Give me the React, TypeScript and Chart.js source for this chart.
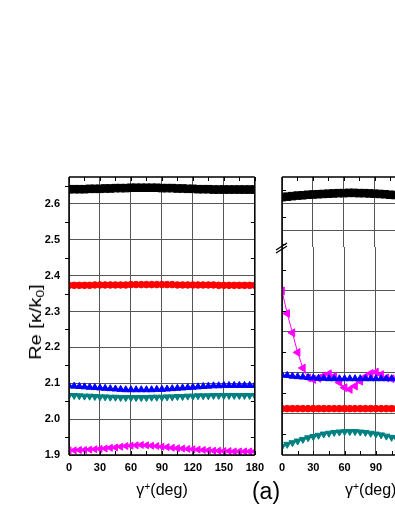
import React, { useEffect, useRef } from "react";
import { Chart, registerables } from "chart.js";
Chart.register(...registerables);

// ---------------- data ----------------
// left panel, angle gamma+ in degrees
const ANGLES_L = [
  0, 5, 10, 15, 20, 25, 30, 35, 40, 45, 50, 55, 60, 65, 70, 75, 80, 85, 90,
  95, 100, 105, 110, 115, 120, 125, 130, 135, 140, 145, 150, 155, 160, 165, 170, 175, 180,
];
const BLACK_L = [
  2.641, 2.641, 2.641, 2.641, 2.642, 2.642, 2.642, 2.643, 2.643, 2.644, 2.644, 2.644, 2.645, 2.645, 2.645, 2.645, 2.645, 2.645, 2.644,
  2.644, 2.644, 2.643, 2.643, 2.642, 2.642, 2.641, 2.641, 2.641, 2.640, 2.640, 2.640, 2.640, 2.640, 2.640, 2.640, 2.640, 2.640,
];
const RED_L = [
  2.373, 2.373, 2.373, 2.373, 2.373, 2.374, 2.374, 2.374, 2.374, 2.374, 2.374, 2.374, 2.375, 2.375, 2.375, 2.375, 2.375, 2.375, 2.375,
  2.375, 2.375, 2.374, 2.374, 2.374, 2.374, 2.374, 2.374, 2.374, 2.374, 2.373, 2.373, 2.373, 2.373, 2.373, 2.373, 2.373, 2.373,
];
const BLUE_L = [
  2.093, 2.092, 2.091, 2.090, 2.089, 2.088, 2.087, 2.086, 2.085, 2.084, 2.083, 2.082, 2.082, 2.082, 2.082, 2.082, 2.082, 2.083, 2.083,
  2.084, 2.085, 2.086, 2.087, 2.088, 2.089, 2.090, 2.091, 2.092, 2.093, 2.093, 2.094, 2.094, 2.094, 2.094, 2.094, 2.094, 2.094,
];
const TEAL_L = [
  2.066, 2.066, 2.065, 2.064, 2.064, 2.063, 2.062, 2.062, 2.061, 2.061, 2.060, 2.060, 2.060, 2.060, 2.060, 2.060, 2.061, 2.061, 2.061,
  2.062, 2.062, 2.063, 2.063, 2.064, 2.064, 2.065, 2.065, 2.065, 2.066, 2.066, 2.066, 2.066, 2.066, 2.066, 2.066, 2.066, 2.066,
];
const MAGENTA_L = [
  1.913, 1.913, 1.914, 1.914, 1.915, 1.916, 1.917, 1.918, 1.920, 1.921, 1.923, 1.925, 1.926, 1.927, 1.928, 1.927, 1.926, 1.925, 1.923,
  1.922, 1.920, 1.919, 1.918, 1.917, 1.916, 1.915, 1.914, 1.913, 1.912, 1.912, 1.911, 1.911, 1.910, 1.910, 1.910, 1.910, 1.910,
];

// right panel (visible part only)
const ANGLES_R = [0, 5, 10, 15, 20, 25, 30, 35, 40, 45, 50, 55, 60, 65, 70, 75, 80, 85, 90, 95, 100, 105, 110];
const BLACK_R = [
  2.625, 2.627, 2.629, 2.631, 2.632, 2.634, 2.635, 2.636, 2.637, 2.638, 2.639, 2.640, 2.640, 2.641, 2.641, 2.640, 2.640, 2.639, 2.638,
  2.637, 2.636, 2.634, 2.633,
];
const MAGENTA_R = [
  2.300, 2.245, 2.198, 2.150, 2.112, 2.088, 2.084, 2.087, 2.093, 2.098, 2.092, 2.077, 2.064, 2.060, 2.068, 2.080, 2.091, 2.099, 2.102,
  2.096, 2.088, 2.086, 2.087,
];
const BLUE_R = [
  2.095, 2.094, 2.092, 2.091, 2.090, 2.089, 2.088, 2.087, 2.087, 2.086, 2.086, 2.086, 2.086, 2.086, 2.086, 2.086, 2.086, 2.086, 2.086,
  2.086, 2.086, 2.086, 2.086,
];
const RED_R = [
  2.013, 2.013, 2.013, 2.013, 2.013, 2.013, 2.013, 2.013, 2.013, 2.013, 2.013, 2.013, 2.013, 2.013, 2.013, 2.013, 2.013, 2.013, 2.013,
  2.013, 2.013, 2.013, 2.013,
];
const TEAL_R = [
  1.921, 1.926, 1.930, 1.934, 1.938, 1.942, 1.945, 1.948, 1.951, 1.953, 1.955, 1.956, 1.957, 1.957, 1.957, 1.956, 1.955, 1.953, 1.951,
  1.949, 1.946, 1.943, 1.940,
];

// ticks
const X_TICKS = [0, 30, 60, 90, 120, 150, 180];
const X_MINOR = [0, 15, 30, 45, 60, 75, 90, 105, 120, 135, 150, 165, 180];
const Y_TICKS_L = [1.9, 2.0, 2.1, 2.2, 2.3, 2.4, 2.5, 2.6];
const Y_MINOR_L = [1.95, 2.05, 2.15, 2.25, 2.35, 2.45, 2.55, 2.65];
const Y_TICKS_RU = [2.5, 2.6];
const Y_MINOR_RU = [2.45, 2.55, 2.65];
const Y_TICKS_RL = [2.0, 2.1, 2.2, 2.3];
const Y_MINOR_RL = [1.95, 2.05, 2.15, 2.25, 2.35];

const FONT = "'Liberation Sans', Arial, Helvetica, sans-serif";

type Area = { left: number; top: number; right: number; bottom: number };
type Spec = {
  area: Area;
  datasets: any[];
  yMin: number;
  yMax: number;
  yTicks: number[];
  yMinor: number[];
  showX: boolean;
  showY: boolean;
  sides: { top: boolean; bottom: boolean; left: boolean; right: boolean };
  leftOut: boolean;
  breakMark?: boolean;
};

function series(xs: number[], ys: number[], color: string, style: string, rot: number, r: number) {
  return {
    data: xs.map((x, i) => ({ x, y: ys[i] })),
    borderColor: color,
    backgroundColor: color,
    borderWidth: 1,
    pointStyle: style,
    pointRotation: rot,
    pointRadius: r,
    pointBorderWidth: 1,
    pointBorderColor: color,
    pointBackgroundColor: color,
    tension: 0,
    fill: false,
  };
}

function makePanel(canvas: HTMLCanvasElement, spec: Spec) {
  const pad = { left: 0, top: 0, right: 0, bottom: 0 };
  const TL = 4;
  const frame = {
    id: "frame",
    afterDatasetsDraw(chart: any) {
      const { ctx, chartArea: a } = chart;
      const xs = chart.scales.x;
      const ys = chart.scales.y;
      ctx.save();
      ctx.strokeStyle = "#000";
      ctx.lineWidth = 1.5;
      ctx.beginPath();
      if (spec.sides.top) { ctx.moveTo(a.left, a.top); ctx.lineTo(a.right, a.top); }
      if (spec.sides.bottom) { ctx.moveTo(a.left, a.bottom); ctx.lineTo(a.right, a.bottom); }
      if (spec.sides.left) { ctx.moveTo(a.left, a.top); ctx.lineTo(a.left, a.bottom); }
      if (spec.sides.right) { ctx.moveTo(a.right, a.top); ctx.lineTo(a.right, a.bottom); }
      ctx.stroke();
      ctx.lineWidth = 1;
      ctx.beginPath();
      for (const v of X_MINOR) {
        const px = Math.round(xs.getPixelForValue(v)) + 0.5;
        if (spec.sides.top) { ctx.moveTo(px, a.top); ctx.lineTo(px, a.top + TL); }
        if (spec.sides.bottom) { ctx.moveTo(px, a.bottom); ctx.lineTo(px, a.bottom - TL); }
      }
      for (const v of spec.yMinor) {
        const py = Math.round(ys.getPixelForValue(v)) + 0.5;
        if (spec.leftOut) { ctx.moveTo(a.left - TL, py); ctx.lineTo(a.left, py); }
        else { ctx.moveTo(a.left, py); ctx.lineTo(a.left + TL, py); }
        ctx.moveTo(a.right, py); ctx.lineTo(a.right - TL, py);
      }
      ctx.stroke();
      if (spec.breakMark) {
        ctx.lineWidth = 1.3;
        ctx.beginPath();
        ctx.moveTo(a.left - 6, a.top + 3); ctx.lineTo(a.left + 5, a.top - 4);
        ctx.moveTo(a.left - 6, a.top + 6); ctx.lineTo(a.left + 5, a.top - 1);
        ctx.stroke();
      }
      ctx.restore();
    },
  };
  const tickFont = { family: FONT, size: 11, weight: "bold" as const };
  const chart = new Chart(canvas, {
    type: "line",
    data: { datasets: spec.datasets },
    options: {
      animation: false,
      responsive: false,
      devicePixelRatio: 1,
      events: [],
      layout: { padding: { ...pad }, autoPadding: false } as any,
      plugins: { legend: { display: false }, tooltip: { enabled: false } },
      scales: {
        x: {
          type: "linear",
          min: 0,
          max: 180,
          afterBuildTicks: (s: any) => { s.ticks = X_TICKS.map((v) => ({ value: v })); },
          ticks: {
            display: spec.showX, font: tickFont, color: "#000", padding: 6,
            maxRotation: 0, autoSkip: false, callback: (v: any) => String(v),
          },
          grid: { color: "#555", lineWidth: 1, drawTicks: false },
          border: { display: false },
        },
        y: {
          type: "linear",
          min: spec.yMin,
          max: spec.yMax,
          afterBuildTicks: (s: any) => { s.ticks = spec.yTicks.map((v) => ({ value: v })); },
          ticks: {
            display: spec.showY, font: tickFont, color: "#000", padding: 9,
            autoSkip: false, callback: (v: any) => Number(v).toFixed(1),
          },
          grid: { color: "#555", lineWidth: 1, drawTicks: false },
          border: { display: false },
        },
      },
    } as any,
    plugins: [frame as any],
  });
  for (let i = 0; i < 5; i++) {
    const a = chart.chartArea;
    const t = spec.area;
    const dl = t.left - a.left, dt = t.top - a.top, dr = a.right - t.right, db = a.bottom - t.bottom;
    if (Math.abs(dl) + Math.abs(dt) + Math.abs(dr) + Math.abs(db) < 0.3) break;
    pad.left += dl; pad.top += dt; pad.right += dr; pad.bottom += db;
    (chart.config.options as any).layout.padding = { ...pad };
    chart.update();
  }
  return chart;
}

export default function App() {
  const lRef = useRef<HTMLCanvasElement>(null);
  const uRef = useRef<HTMLCanvasElement>(null);
  const dRef = useRef<HTMLCanvasElement>(null);

  useEffect(() => {
    const charts: Chart[] = [];
    charts.push(
      makePanel(lRef.current!, {
        area: { left: 69, top: 177, right: 254, bottom: 455 },
        datasets: [
          series(ANGLES_L, BLACK_L, "#000000", "rect", 0, 5.3),
          series(ANGLES_L, RED_L, "#ff0000", "circle", 0, 3.3),
          series(ANGLES_L, TEAL_L, "#008080", "triangle", 180, 4),
          series(ANGLES_L, BLUE_L, "#0000ff", "triangle", 0, 4),
          series(ANGLES_L, MAGENTA_L, "#ff00ff", "triangle", 270, 4),
        ],
        yMin: 1.9,
        yMax: 2.675,
        yTicks: Y_TICKS_L,
        yMinor: Y_MINOR_L,
        showX: true,
        showY: true,
        sides: { top: true, bottom: true, left: true, right: true },
        leftOut: true,
      })
    );
    charts.push(
      makePanel(uRef.current!, {
        area: { left: 12, top: 177, right: 197, bottom: 247 },
        datasets: [series(ANGLES_R, BLACK_R, "#000000", "rect", 0, 5.3)],
        yMin: 2.44,
        yMax: 2.7,
        yTicks: Y_TICKS_RU,
        yMinor: Y_MINOR_RU,
        showX: false,
        showY: false,
        sides: { top: true, bottom: false, left: true, right: true },
        leftOut: false,
      })
    );
    charts.push(
      makePanel(dRef.current!, {
        area: { left: 12, top: 7, right: 197, bottom: 215 },
        datasets: [
          series(ANGLES_R, RED_R, "#ff0000", "circle", 0, 3.3),
          series(ANGLES_R, TEAL_R, "#008080", "triangle", 180, 4),
          series(ANGLES_R, BLUE_R, "#0000ff", "triangle", 0, 4),
          series(ANGLES_R, MAGENTA_R, "#ff00ff", "triangle", 270, 4.5),
        ],
        yMin: 1.9,
        yMax: 2.407,
        yTicks: Y_TICKS_RL,
        yMinor: Y_MINOR_RL,
        showX: true,
        showY: false,
        sides: { top: false, bottom: true, left: true, right: true },
        leftOut: false,
        breakMark: true,
      })
    );
    return () => charts.forEach((c) => c.destroy());
  }, []);

  const txt: React.CSSProperties = {
    position: "absolute",
    fontFamily: FONT,
    color: "#000",
    whiteSpace: "nowrap",
    lineHeight: 1,
  };
  const sup: React.CSSProperties = { fontSize: "0.65em", position: "relative", top: "-0.5em" };

  return (
    <div style={{ position: "fixed", left: 0, top: 0, width: 395, height: 511, overflow: "hidden", background: "#fff" }}>
      <canvas ref={lRef} width={270} height={511} style={{ position: "absolute", left: 0, top: 0 }} />
      <canvas ref={uRef} width={215} height={260} style={{ position: "absolute", left: 270, top: 0 }} />
      <canvas ref={dRef} width={215} height={271} style={{ position: "absolute", left: 270, top: 240 }} />
      <div
        style={{
          ...txt,
          fontSize: 16,
          left: 36,
          top: 322,
          transform: "translate(-50%, -50%) rotate(-90deg) scaleX(1.25)",
        }}
      >
        Re [κ/k<span style={{ fontSize: "0.7em", position: "relative", top: "0.3em" }}>0</span>]
      </div>
      <div style={{ ...txt, fontSize: 16, left: 162, top: 490, transform: "translate(-50%, -50%)" }}>
        γ<span style={sup}>+</span>(deg)
      </div>
      <div style={{ ...txt, fontSize: 16, left: 345, top: 490, transform: "translate(0, -50%)" }}>
        γ<span style={sup}>+</span>(deg)
      </div>
      <div style={{ ...txt, fontSize: 23, left: 266, top: 491, transform: "translate(-50%, -50%)" }}>(a)</div>
    </div>
  );
}
